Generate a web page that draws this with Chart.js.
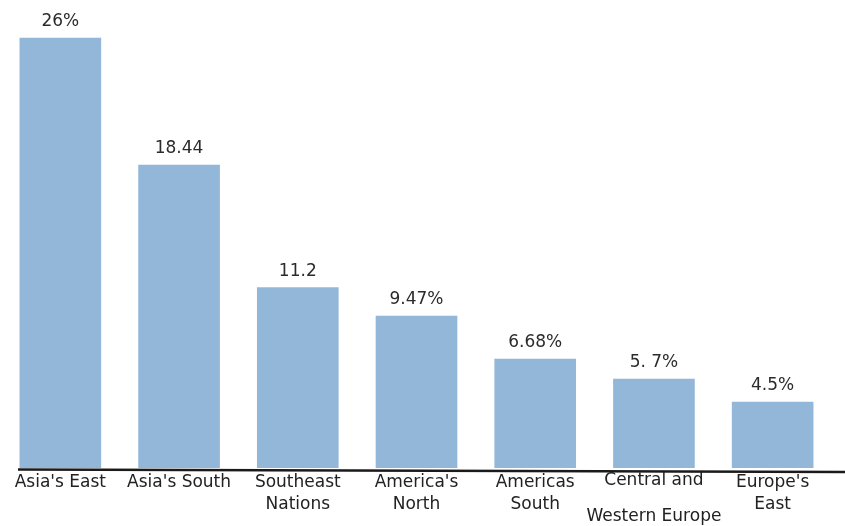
<!DOCTYPE html>
<html>
<head>
<meta charset="utf-8">
<script src="https://cdn.jsdelivr.net/npm/chart.js@4/dist/chart.umd.min.js"></script>
<style>
  html, body { margin: 0; padding: 0; background: #fff; }
  #wrap { width: 845px; height: 526px; position: relative; }
</style>
</head>
<body>
<div id="wrap"><canvas id="c" width="845" height="526"></canvas></div>
<script>
// Categories (multi-line tick labels)
const categories = [
  ["Asia's East"],
  ["Asia's South"],
  ["Southeast", "Nations"],
  ["America's", "North"],
  ["Americas", "South"],
  ["Central and", "", "Western Europe"],
  ["Europe's", "East"]
];
// Bar heights
const shareValues = [26, 18.32, 10.91, 9.19, 6.59, 5.38, 3.99];
// Value labels exactly as printed above the bars
const valueLabels = ["26%", "18.44", "11.2", "9.47%", "6.68%", "5. 7%", "4.5%"];

const FONT = "'DejaVu Sans', 'Open Sans', sans-serif";

const valueLabelPlugin = {
  id: 'valueLabels',
  afterDatasetsDraw(chart) {
    const ctx = chart.ctx;
    const meta = chart.getDatasetMeta(0);
    ctx.save();
    ctx.font = "17px " + FONT;
    ctx.fillStyle = "#2b2b2b";
    ctx.textAlign = "center";
    ctx.textBaseline = "alphabetic";
    meta.data.forEach((bar, i) => {
      ctx.fillText(valueLabels[i], bar.x, bar.y - 12);
    });
    ctx.restore();
  }
};

const baselinePlugin = {
  id: 'baseline',
  afterDatasetsDraw(chart) {
    const ctx = chart.ctx;
    const b = chart.chartArea.bottom;
    ctx.save();
    ctx.strokeStyle = "#1a1a1a";
    ctx.lineWidth = 2.5;
    ctx.beginPath();
    ctx.moveTo(18, b + 1.5);
    ctx.lineTo(chart.width, b + 4);
    ctx.stroke();
    ctx.restore();
  }
};

new Chart(document.getElementById('c'), {
  type: 'bar',
  data: {
    labels: categories,
    datasets: [{
      data: shareValues,
      backgroundColor: '#93b7d9',
      borderWidth: 0,
      barThickness: 81
    }]
  },
  options: {
    responsive: false,
    animation: false,
    devicePixelRatio: 1,
    layout: { padding: { left: 1, right: 13, top: 0, bottom: 0 } },
    plugins: {
      legend: { display: false },
      tooltip: { enabled: false },
      title: { display: false }
    },
    scales: {
      x: {
        grid: { display: false, drawTicks: false },
        border: { display: false },
        afterFit(scale) { scale.height = 58; },
        ticks: {
          autoSkip: false,
          maxRotation: 0,
          minRotation: 0,
          padding: 4,
          color: '#222222',
          font: (ctx) => ({
            family: FONT,
            size: 17,
            lineHeight: (ctx.index === 5) ? '18px' : '22px'
          })
        }
      },
      y: {
        display: false,
        min: 0,
        max: 28.3
      }
    }
  },
  plugins: [valueLabelPlugin, baselinePlugin]
});
</script>
</body>
</html>
